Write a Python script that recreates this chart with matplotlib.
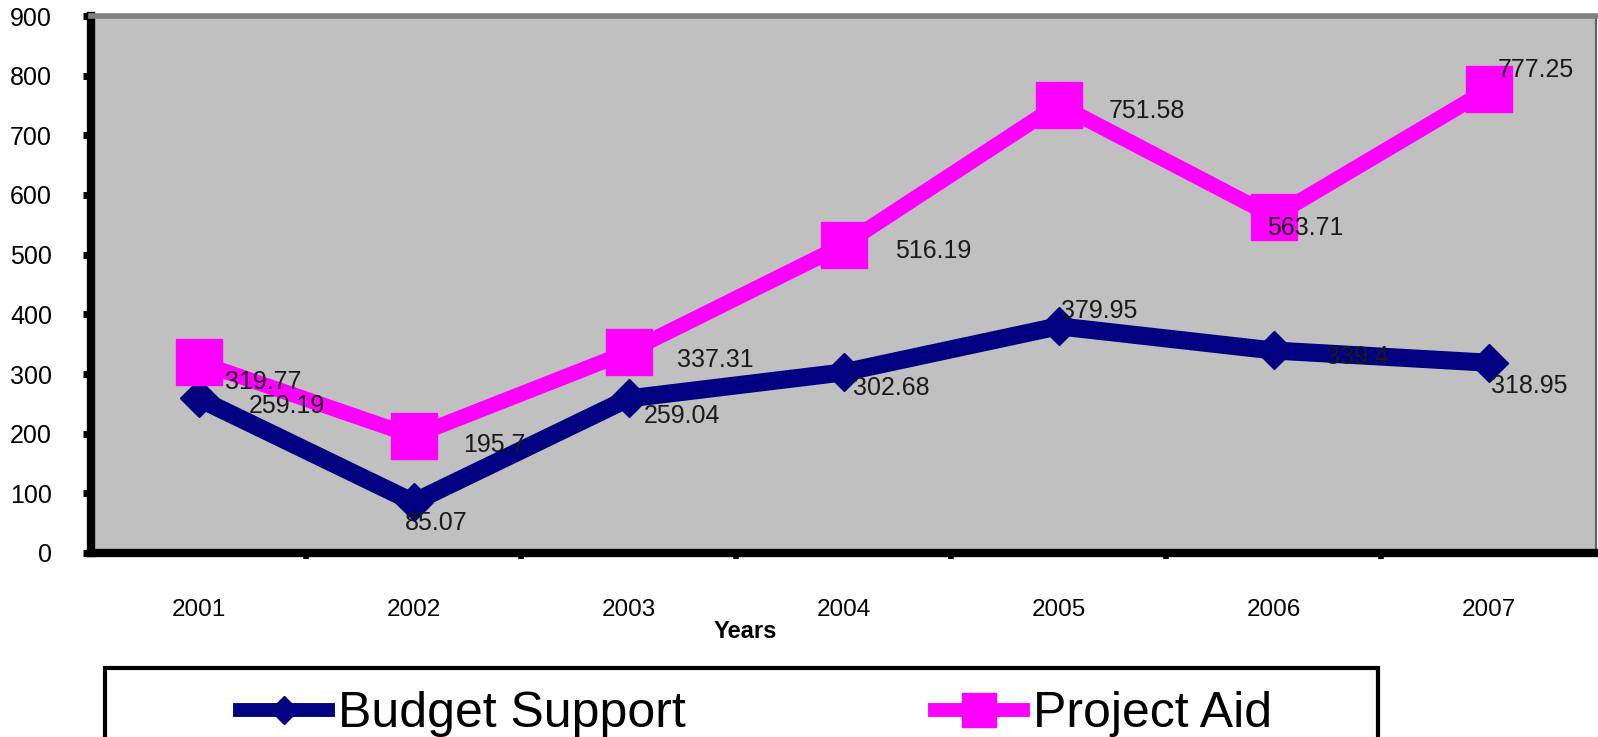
import matplotlib
matplotlib.use("Agg")
import matplotlib.pyplot as plt
from matplotlib.patches import Rectangle

plt.rcParams['font.family'] = ['Liberation Sans', 'DejaVu Sans']

# data
years = ['2001', '2002', '2003', '2004', '2005', '2006', '2007']
budget_support = [259.19, 85.07, 259.04, 302.68, 379.95, 339.4, 318.95]
project_aid = [319.77, 195.7, 337.31, 516.19, 751.58, 563.71, 777.25]

# label offsets in points (Excel placed them a bit at random)
bs_offsets = [(36, -5.5), (-6, -15), (11, -12.5), (7, -11), (1.5, 11), (38, -4.5), (1.5, -17)]
pa_offsets = [(19, -14), (36, -6.6), (35, -6), (37, -4), (36, -4.5), (-5, -8), (7, 14)]

W, H = 1598, 737
fig = plt.figure(figsize=(W / 100, H / 100), dpi=100)
ax = fig.add_axes([91 / W, 1 - 553 / H, (1596 - 91) / W, (553 - 16) / H])
ax.set_facecolor('#c0c0c0')

x = list(range(len(years)))
ax.plot(x, budget_support, color='#000080', lw=13, marker='D', markersize=19,
        solid_joinstyle='round', label='Budget Support', zorder=3)
ax.plot(x, project_aid, color='#ff00ff', lw=11, marker='s', markersize=33,
        solid_joinstyle='round', label='Project Aid', zorder=3)

for xi, v, off in zip(x, budget_support, bs_offsets):
    ax.annotate(f'{v:g}', (xi, v), xytext=off, textcoords='offset points',
                ha='left', va='center', fontsize=18, color='#1a1a1a', zorder=5)
for xi, v, off in zip(x, project_aid, pa_offsets):
    ax.annotate(f'{v:g}', (xi, v), xytext=off, textcoords='offset points',
                ha='left', va='center', fontsize=18, color='#1a1a1a', zorder=5)

ax.set_xlim(-0.5, len(years) - 0.5)
ax.set_ylim(0, 900)
ax.set_yticks(range(0, 901, 100))
ax.tick_params(axis='y', direction='out', length=6, width=5, pad=22, labelsize=18)

# category labels centred, tick marks between categories
ax.set_xticks(x)
ax.set_xticklabels(years)
ax.set_xticks([i + 0.5 for i in x[:-1]], minor=True)
ax.tick_params(axis='x', which='major', length=0, pad=33, labelsize=17.5)
ax.tick_params(axis='x', which='minor', direction='out', length=4, width=4)

ax.set_xlabel('Years', fontsize=17, fontweight='bold')
ax.xaxis.set_label_coords(0.435, -0.125)

ax.spines['left'].set_linewidth(6)
ax.spines['bottom'].set_linewidth(6)
ax.spines['top'].set_color('#808080')
ax.spines['top'].set_linewidth(4)
ax.spines['right'].set_color('#606060')
ax.spines['right'].set_linewidth(1.5)

# legend box runs off the bottom of the picture
fig.patches.append(Rectangle((105 / W, -0.05), (1378 - 105) / W, 0.05 + (1 - 668 / H),
                             transform=fig.transFigure, fill=False, edgecolor='black',
                             linewidth=3, clip_on=False))
leg = fig.legend(loc='center left', bbox_to_anchor=(240 / W, 1 - 714 / H), ncol=2,
                 frameon=False, fontsize=36, handlelength=1.75, handletextpad=0.2,
                 columnspacing=5.0, borderpad=0, borderaxespad=0, markerscale=0.75)
for line in leg.get_lines():
    line.set_linewidth(10)

fig.savefig('out.png', dpi=100)
